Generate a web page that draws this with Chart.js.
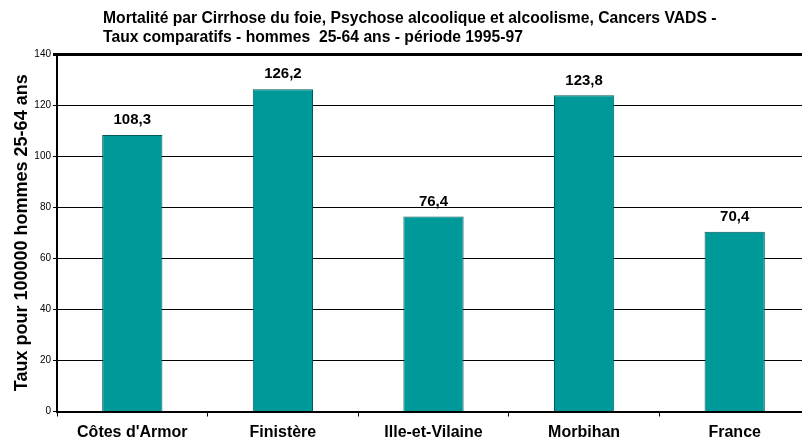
<!DOCTYPE html>
<html><head><meta charset="utf-8">
<script src="https://cdn.jsdelivr.net/npm/chart.js@4/dist/chart.umd.min.js"></script>
<style>html,body{margin:0;padding:0;background:#fff;overflow:hidden}
#wrap{position:relative;width:815px;height:438px}</style></head>
<body><div id="wrap"><canvas id="c"></canvas></div>
<script>
const categories = ["Côtes d'Armor", "Finistère", "Ille-et-Vilaine", "Morbihan", "France"];
const values = [108.3, 126.2, 76.4, 123.8, 70.4];
const titleLines = ["Mortalité par Cirrhose du foie, Psychose alcoolique et alcoolisme, Cancers VADS -",
                    "Taux comparatifs - hommes  25-64 ans - période 1995-97"];
const yTitle = "Taux pour 100000 hommes 25-64 ans";
const yMin = 0, yMax = 140, yStep = 20;

const FONT = "'Liberation Sans', Arial, sans-serif";

const titlePlugin = {
  id: 'leftTitle',
  afterDraw(chart) {
    const ctx = chart.ctx;
    ctx.save();
    ctx.fillStyle = '#000';
    ctx.font = "bold 15.7px " + FONT;
    ctx.textBaseline = 'middle';
    ctx.textAlign = 'left';
    ctx.fillText(titleLines[0], 103, 19);
    ctx.fillText(titleLines[1], 103, 38);
    ctx.restore();
  }
};

const labelPlugin = {
  id: 'valueLabels',
  afterDatasetsDraw(chart) {
    const ctx = chart.ctx;
    const meta = chart.getDatasetMeta(0);
    ctx.save();
    ctx.fillStyle = '#000';
    ctx.font = "bold 15px " + FONT;
    ctx.textAlign = 'center';
    ctx.textBaseline = 'middle';
    meta.data.forEach((bar, i) => {
      const v = chart.data.datasets[0].data[i];
      ctx.fillText(v.toFixed(1).replace('.', ','), bar.x, bar.y - 15);
    });
    ctx.restore();
  }
};

new Chart(document.getElementById('c'), {
  type: 'bar',
  data: {
    labels: categories,
    datasets: [{
      data: values,
      backgroundColor: '#009999',
      borderColor: '#005a5a',
      borderWidth: 1,
      barPercentage: 0.4,
      categoryPercentage: 1.0
    }]
  },
  options: {
    responsive: true,
    maintainAspectRatio: false,
    animation: false,
    layout: { padding: { top: 54, right: 5, left: 11, bottom: 0 } },
    plugins: { legend: { display: false }, title: { display: false }, tooltip: { enabled: false } },
    scales: {
      x: {
        afterFit(scale) { scale.height = 26.5; },
        grid: { display: true, drawOnChartArea: false, drawTicks: true, tickLength: 5, color: '#000', lineWidth: 1, offset: true },
        border: { display: true, color: '#000', width: 2 },
        ticks: { color: '#000', font: { family: FONT, size: 16, weight: 'bold' }, padding: 6, maxRotation: 0 }
      },
      y: {
        min: yMin, max: yMax,
        afterFit(scale) { scale.width = 46; },
        grid: {
          color: '#000',
          lineWidth: (c) => (c.tick && c.tick.value === yMax ? 3 : 1),
          tickLength: 4
        },
        border: { display: true, color: '#000', width: 2 },
        ticks: { stepSize: yStep, color: '#000', font: { family: FONT, size: 10 }, padding: 2 },
        title: { display: true, text: yTitle, color: '#000', font: { family: FONT, size: 18, weight: 'bold' }, padding: { top: 0, bottom: 0 } }
      }
    }
  },
  plugins: [titlePlugin, labelPlugin]
});
</script>
</body></html>
